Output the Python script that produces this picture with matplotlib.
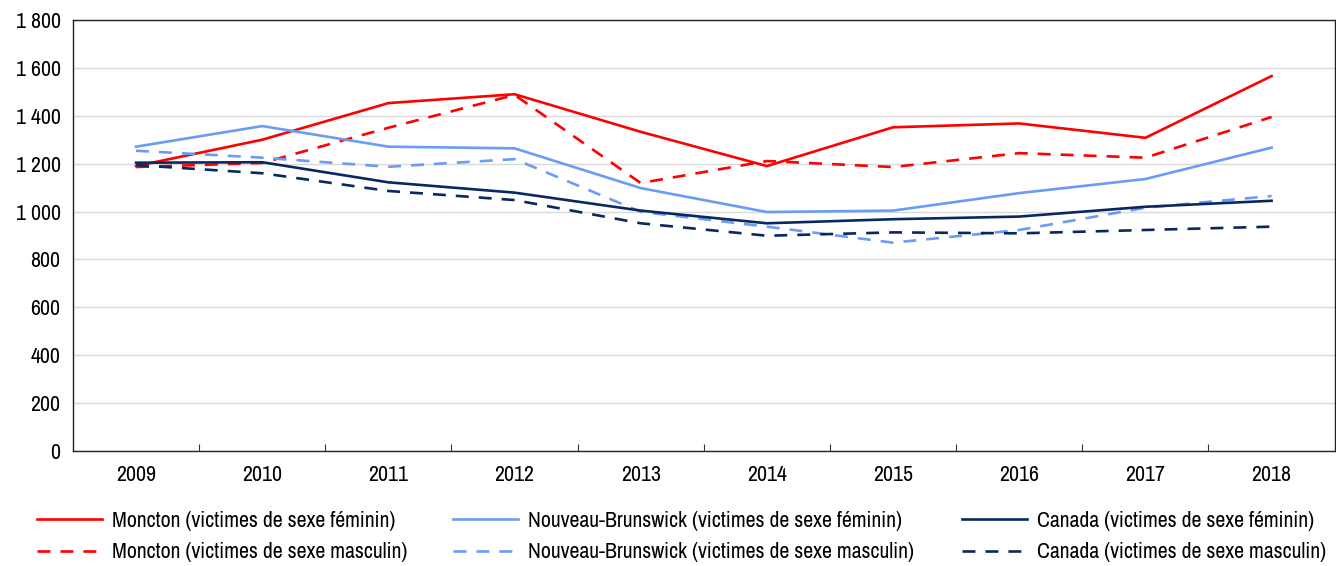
import matplotlib.pyplot as plt
import matplotlib as mpl
from matplotlib.ticker import FuncFormatter, FixedLocator

mpl.rcParams['font.family'] = ['Archivo Narrow', 'Liberation Sans', 'DejaVu Sans']

# --- données ---
years = ['2009', '2010', '2011', '2012', '2013', '2014', '2015', '2016', '2017', '2018']
moncton_f = [1190, 1300, 1453, 1490, 1333, 1190, 1352, 1368, 1308, 1566]
moncton_m = [1186, 1203, 1350, 1487, 1119, 1211, 1186, 1244, 1225, 1395]
nb_f = [1271, 1357, 1271, 1264, 1098, 998, 1004, 1077, 1136, 1267]
nb_m = [1254, 1225, 1187, 1219, 999, 937, 870, 923, 1016, 1065]
canada_f = [1204, 1206, 1122, 1079, 1004, 951, 968, 979, 1020, 1045]
canada_m = [1194, 1160, 1086, 1048, 951, 899, 913, 909, 923, 937]

red = '#ff0000'
lblue = '#6b9cf5'
navy = '#0a2860'
fs = 15.7

fig = plt.figure(figsize=(13.36, 5.66), dpi=100)
ax = fig.add_axes([73 / 1336, 1 - 451 / 566, 1 - 73 / 1336 - 0.001, (451 - 20) / 566])

x = list(range(len(years)))
lw = 1.9
dash = (4.9, 3.8)
series = [
    (moncton_f, red, '-', 'Moncton (victimes de sexe féminin)'),
    (moncton_m, red, '--', 'Moncton (victimes de sexe masculin)'),
    (nb_f, lblue, '-', 'Nouveau-Brunswick (victimes de sexe féminin)'),
    (nb_m, lblue, '--', 'Nouveau-Brunswick (victimes de sexe masculin)'),
    (canada_f, navy, '-', 'Canada (victimes de sexe féminin)'),
    (canada_m, navy, '--', 'Canada (victimes de sexe masculin)'),
]
handles = []
for vals, c, ls, lab in series:
    if ls == '--':
        h, = ax.plot(x, vals, color=c, lw=lw, ls='--', dashes=dash, label=lab)
    else:
        h, = ax.plot(x, vals, color=c, lw=lw, label=lab)
    handles.append(h)

ax.set_xlim(-0.5, len(years) - 0.5)
ax.set_ylim(0, 1800)
ax.set_yticks(range(0, 1801, 200))
ax.yaxis.set_major_formatter(FuncFormatter(lambda v, p: f'{int(v):,}'.replace(',', ' ')))
ax.grid(axis='y', color='#d9d9d9', lw=1)
ax.set_axisbelow(True)

ax.set_xticks(x)
ax.set_xticklabels(years)
ax.xaxis.set_minor_locator(FixedLocator([i + 0.5 for i in range(len(years) - 1)]))
ax.tick_params(axis='x', which='major', length=0, pad=10, labelsize=fs)
ax.tick_params(axis='x', which='minor', direction='in', length=5, width=0.8, color='#333333')
ax.tick_params(axis='y', length=0, pad=9, labelsize=fs)

for s in ax.spines.values():
    s.set_color('#222222')
    s.set_linewidth(1.0)

# légende : trois colonnes placées séparément
col_x = [37, 453, 962]
for i, cx in enumerate(col_x):
    fig.legend(handles=handles[2 * i:2 * i + 2], loc='center left',
               bbox_to_anchor=(cx / 1336, 1 - 536.5 / 566),
               frameon=False, fontsize=fs, handlelength=3.0, handletextpad=0.45,
               labelspacing=0.52, borderaxespad=0, borderpad=0)

fig.savefig('out.png', dpi=100)
